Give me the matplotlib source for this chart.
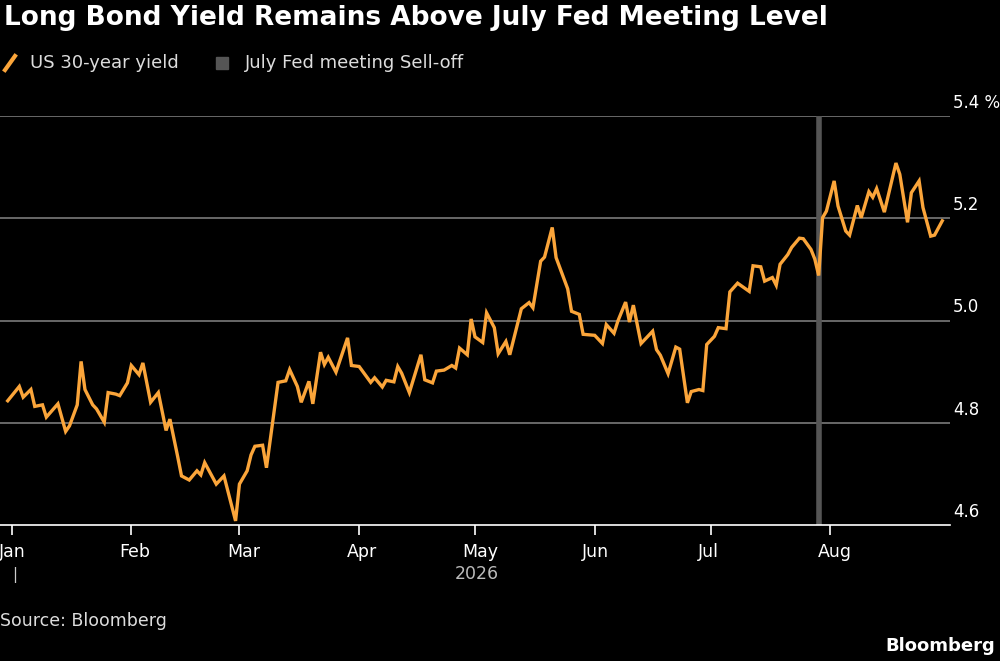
import matplotlib
matplotlib.use("Agg")
import matplotlib.pyplot as plt
import matplotlib.lines as mlines
import matplotlib.transforms as mtrans
import datetime as dt

days = [-1,2,3,5,6,8,9,12,14,15,17,18,19,21,22,24,25,27,28,30,31,33,34,36,38,40,41,43,44,46,48,49,50,53,55,58,59,61,62,63,65,66,69,71,72,
        74,75,77,78,80,81,82,84,87,88,90,93,94,96,97,99,100,101,103,106,107,109,110,112,114,115,116,118,119,120,122,123,125,126,128,129,132,134,135,137,138,140,141,144,145,147,148,151,153,154,156,
        157,159,160,161,163,166,167,168,170,172,173,175,176,178,179,180,182,183,185,186,188,191,192,194,195,197,198,199,201,202,204,205,207,208,209,210,211,213,214,216,217,219,220,222,223,224,226,229,230,232,233,235,236,238,239,241]
yields = [4.843,4.871,4.850,4.865,4.832,4.835,4.811,4.837,4.783,4.794,4.835,4.920,4.865,4.835,4.827,4.801,4.859,4.856,4.853,4.878,4.912,4.894,4.917,4.840,4.859,4.785,4.807,4.734,4.696,4.688,4.706,4.698,4.722,4.680,4.696,4.608,4.680,4.706,4.737,4.754,4.756,4.712,4.879,4.882,4.904,
          4.871,4.840,4.881,4.837,4.938,4.914,4.928,4.899,4.966,4.912,4.910,4.879,4.888,4.870,4.883,4.880,4.910,4.897,4.859,4.933,4.884,4.878,4.901,4.903,4.912,4.907,4.946,4.933,5.003,4.968,4.957,5.015,4.986,4.935,4.959,4.933,5.023,5.035,5.025,5.116,5.124,5.182,5.123,5.062,5.018,5.012,4.973,4.971,4.955,4.992,4.975,
          4.999,5.036,4.997,5.030,4.955,4.979,4.943,4.932,4.896,4.948,4.944,4.839,4.861,4.865,4.863,4.953,4.969,4.986,4.984,5.056,5.073,5.057,5.107,5.105,5.077,5.084,5.069,5.110,5.129,5.143,5.161,5.160,5.139,5.120,5.088,5.201,5.214,5.273,5.224,5.175,5.167,5.225,5.201,5.252,5.241,5.258,5.212,5.308,5.286,5.192,5.250,5.273,5.221,5.165,5.167,5.195]
fed_meeting = dt.date(2026, 7, 29)
yticks = [4.6, 4.8, 5.0, 5.2, 5.4]
ytick_labels = ["4.6", "4.8", "5.0", "5.2", "5.4 %"]
months = ["Jan", "Feb", "Mar", "Apr", "May", "Jun", "Jul", "Aug"]

base = dt.date(2026, 1, 1)
dates = [base + dt.timedelta(days=d) for d in days]

ORANGE = "#fba53a"
fig = plt.figure(figsize=(10, 6.61), dpi=100, facecolor="black")
ax = fig.add_axes([0.0, 1 - 525/661, 0.95, (525-116)/661])
ax.set_facecolor("black")
ax.set_xlim(base - dt.timedelta(days=3.9), base + dt.timedelta(days=243.2))
ax.set_ylim(4.6, 5.4)
for y in yticks[1:]:
    ax.axhline(y, color="#7a7a7a", lw=1.2, zorder=1)
ax.axvline(fed_meeting, color="#555555", lw=4, zorder=2)
ax.plot(dates, yields, color=ORANGE, lw=2.4, zorder=3, clip_on=False, solid_joinstyle="miter")
for s in ["top", "right", "left"]:
    ax.spines[s].set_visible(False)
ax.spines["bottom"].set_color("white")
ax.spines["bottom"].set_linewidth(1.2)
ax.yaxis.tick_right()
ax.set_yticks(yticks)
ax.set_yticklabels(ytick_labels)
ax.tick_params(axis="y", length=0, pad=2, colors="white", labelsize=12)
for lab in ax.get_yticklabels():
    lab.set_verticalalignment("bottom")
yoff = mtrans.ScaledTranslation(0, 3/72, fig.dpi_scale_trans)
for lab in ax.get_yticklabels():
    lab.set_transform(lab.get_transform() + yoff)
mt = [dt.date(2026, m, 1) for m in range(1, 9)]
ax.set_xticks(mt)
ax.set_xticklabels(months)
ax.tick_params(axis="x", length=7, width=1.2, color="white", colors="white", labelsize=12.5, pad=6)
off = mtrans.ScaledTranslation(-9/72, 0, fig.dpi_scale_trans)
for lab in ax.get_xticklabels():
    lab.set_horizontalalignment("left")
    lab.set_transform(lab.get_transform() + off)

fig.text(15/1000, 1 - 575/661, "|", color="#cccccc", fontsize=11, ha="center", va="center")
fig.text(477/1000, 1 - 574/661, "2026", color="#bbbbbb", fontsize=12.5, ha="center", va="center")
fig.text(0.004, 1 - 18/661, "Long Bond Yield Remains Above July Fed Meeting Level", color="white",
         fontsize=19, fontweight="bold", ha="left", va="center")
fig.lines.append(mlines.Line2D([5/1000, 15/1000], [1-70/661, 1-56/661], color=ORANGE, lw=3, transform=fig.transFigure))
fig.text(30/1000, 1 - 63/661, "US 30-year yield", color="#dddddd", fontsize=13, ha="left", va="center")
fig.patches.append(plt.Rectangle((216/1000, 1-69/661), 12/1000, 12/661, color="#555555", transform=fig.transFigure))
fig.text(245/1000, 1 - 63/661, "July Fed meeting Sell-off", color="#dddddd", fontsize=13, ha="left", va="center")
fig.text(0.0, 1 - 621/661, "Source: Bloomberg", color="#dddddd", fontsize=12.5, ha="left", va="center")
fig.text(0.995, 1 - 646/661, "Bloomberg", color="white", fontsize=13, fontweight="bold", ha="right", va="center")
fig.savefig("out.png", dpi=100, facecolor="black")
